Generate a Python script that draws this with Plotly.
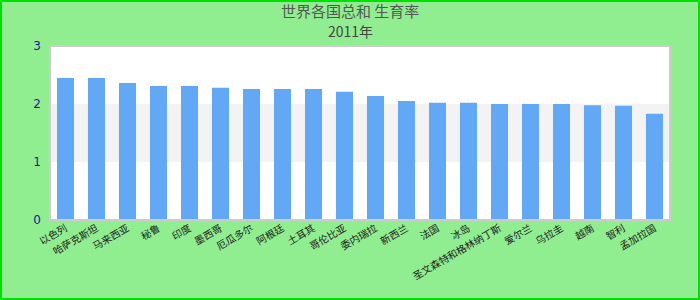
import plotly.graph_objects as go

categories = ["以色列", "哈萨克斯坦", "马来西亚", "秘鲁", "印度", "墨西哥", "厄瓜多尔", "阿根廷", "土耳其", "哥伦比亚", "委内瑞拉", "新西兰", "法国", "冰岛", "圣文森特和格林纳丁斯", "爱尔兰", "乌拉圭", "越南", "智利", "孟加拉国"]
values = [2.45, 2.45, 2.36, 2.31, 2.31, 2.28, 2.26, 2.26, 2.26, 2.21, 2.14, 2.05, 2.02, 2.02, 2.00, 2.00, 2.00, 1.98, 1.97, 1.83]
title_text = "世界各国总和 生育率"
subtitle_text = "2011年"
y_ticks = [0, 1, 2, 3]

fig = go.Figure(go.Bar(x=categories, y=values, marker=dict(color="#63A8F4", line=dict(width=0)), width=0.55))

W, H = 700, 300
ml, mr, mt, mb = 50, 30, 46, 80
pw = W - ml - mr
ph = H - mt - mb

shapes = [
    dict(type="rect", xref="paper", yref="y", x0=0, x1=1, y0=1, y1=2,
         fillcolor="#F3F3F3", line=dict(width=0), layer="below"),
    dict(type="rect", xref="paper", yref="paper", x0=0, x1=1, y0=0, y1=1,
         line=dict(color="#CCCCCC", width=2), layer="above"),
    dict(type="rect", xref="paper", yref="paper",
         x0=-(ml - 1) / pw, x1=(W - ml - 1) / pw,
         y0=-(mb - 1) / ph, y1=(H - mb - 1) / ph,
         line=dict(color="#00E000", width=2), layer="above"),
]

fig.update_layout(
    width=W, height=H,
    margin=dict(l=ml, r=mr, t=mt, b=mb),
    paper_bgcolor="#90EE90",
    plot_bgcolor="#FFFFFF",
    showlegend=False,
    shapes=shapes,
    font=dict(family="Noto Sans CJK SC, DejaVu Sans, sans-serif"),
    xaxis=dict(showgrid=False, tickangle=-30, tickfont=dict(size=10, color="#222222"),
               ticks="", showline=False, zeroline=False),
    yaxis=dict(range=[0, 3], tickvals=y_ticks, showgrid=False, zeroline=False,
               tickfont=dict(size=12, color="#1A1A9A", family="DejaVu Sans"), ticklen=0, ticklabelstandoff=8),
    annotations=[
        dict(text=title_text, xref="paper", yref="paper", x=(350 - ml) / pw, y=1 + (46 - 10) / ph,
             showarrow=False, xanchor="center", yanchor="middle",
             font=dict(size=15, color="#555555")),
        dict(text=subtitle_text, xref="paper", yref="paper", x=(350 - ml) / pw, y=1 + (46 - 31) / ph,
             showarrow=False, xanchor="center", yanchor="middle",
             font=dict(size=14, color="#444444")),
    ],
)

fig.write_html("out.html")
